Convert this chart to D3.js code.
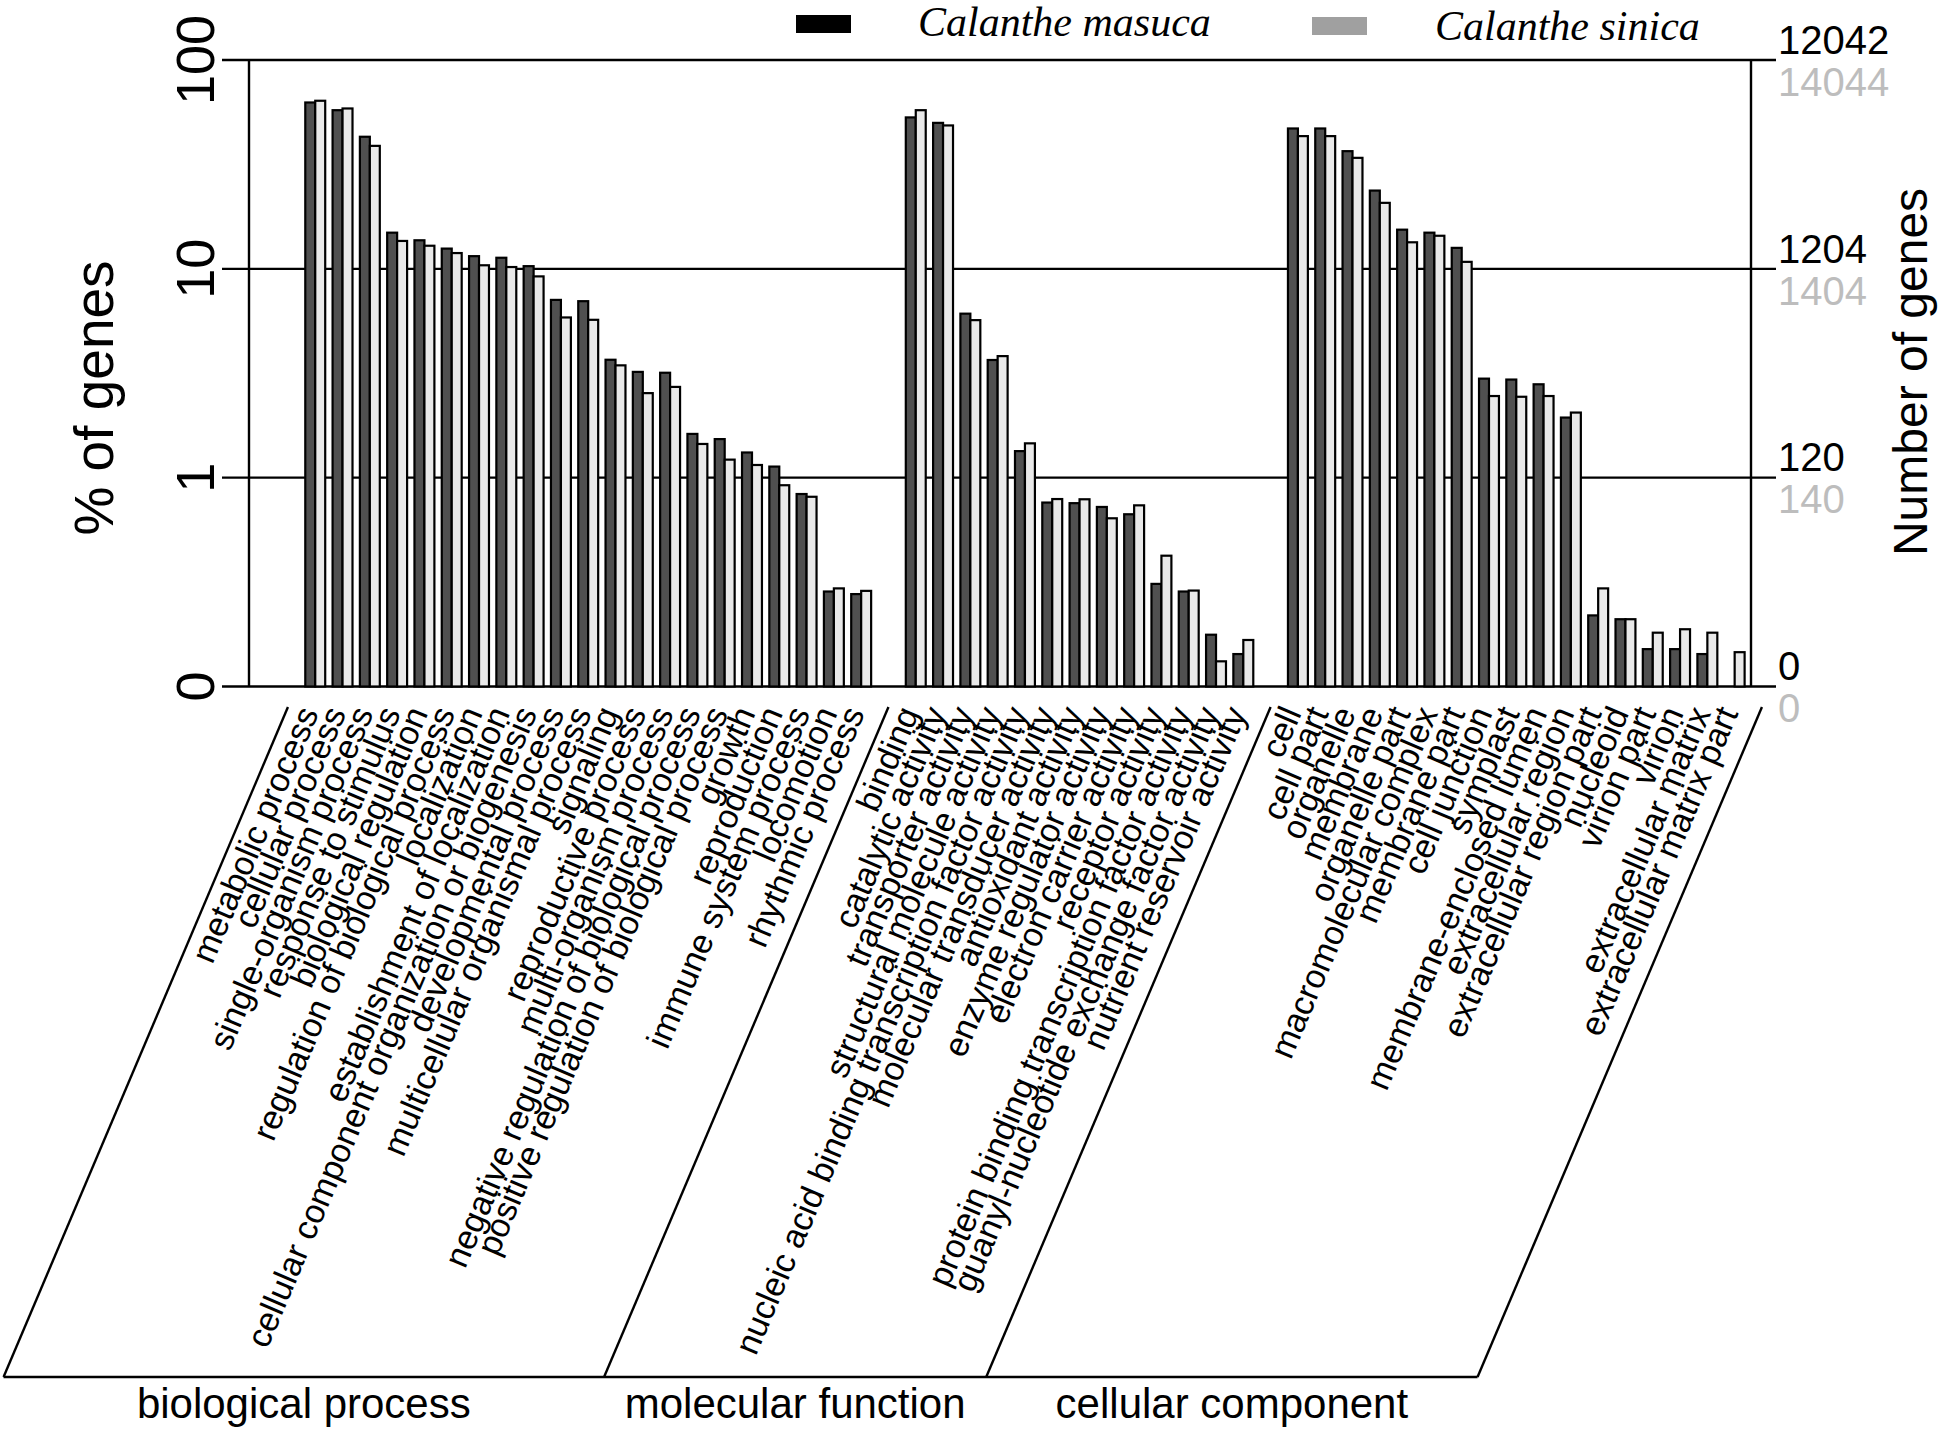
<!DOCTYPE html>
<html><head><meta charset="utf-8">
<script src="https://cdn.jsdelivr.net/npm/d3@7/dist/d3.min.js"></script>
<style>body{margin:0;background:#fff} svg{display:block}</style>
</head><body>
<svg id="chart" width="1946" height="1435"></svg>
<script>
// ---------- data ----------
const groupNames = ["biological process", "molecular function", "cellular component"];
const seriesNames = ["Calanthe masuca", "Calanthe sinica"];

const bpCategories = ["metabolic process","cellular process","single-organism process","response to stimulus",
  "biological regulation","regulation of biological process","localization","establishment of localization",
  "cellular component organization or biogenesis","developmental process","multicellular organismal process",
  "signaling","reproductive process","multi-organism process","negative regulation of biological process",
  "positive regulation of biological process","growth","reproduction","immune system process","locomotion",
  "rhythmic process"];
const bpMasuca = [62.6, 57.5, 42.9, 14.9, 13.7, 12.5, 11.5, 11.3, 10.3, 7.1, 7.0, 3.67, 3.21, 3.18, 1.62, 1.53, 1.32, 1.13, 0.835, 0.285, 0.277];
const bpSinica = [63.8, 58.6, 38.8, 13.6, 12.9, 11.9, 10.4, 10.2, 9.2, 5.85, 5.7, 3.45, 2.54, 2.72, 1.45, 1.22, 1.15, 0.92, 0.81, 0.295, 0.287];

const mfCategories = ["binding","catalytic activity","transporter activity","structural molecule activity",
  "nucleic acid binding transcription factor activity","molecular transducer activity","antioxidant activity",
  "enzyme regulator activity","electron carrier activity","receptor activity",
  "protein binding transcription factor activity","guanyl-nucleotide exchange factor activity",
  "nutrient reservoir activity"];
const mfMasuca = [53.1, 50.0, 6.1, 3.66, 1.34, 0.76, 0.755, 0.724, 0.668, 0.31, 0.285, 0.177, 0.143];
const mfSinica = [57.5, 48.6, 5.68, 3.82, 1.46, 0.79, 0.788, 0.639, 0.737, 0.423, 0.288, 0.132, 0.167];

const ccCategories = ["cell","cell part","organelle","membrane","organelle part","macromolecular complex",
  "membrane part","cell junction","symplast","membrane-enclosed lumen","extracellular region",
  "extracellular region part","nucleoid","virion part","virion","extracellular matrix","extracellular matrix part"];
const ccMasuca = [47.0, 47.0, 36.6, 23.7, 15.4, 14.9, 12.6, 2.98, 2.95, 2.80, 1.94, 0.219, 0.21, 0.151, 0.151, 0.143, 0];
const ccSinica = [43.2, 43.2, 34.0, 20.7, 13.4, 14.4, 10.8, 2.46, 2.44, 2.46, 2.05, 0.295, 0.21, 0.181, 0.188, 0.181, 0.146];

const leftTickValues = [0.1, 1, 10, 100];
const leftTickLabels = ["0", "1", "10", "100"];
const rightTickMasuca = ["0", "120", "1204", "12042"];
const rightTickSinica = ["0", "140", "1404", "14044"];

// ---------- build table ----------
const groupsData = [
  {name: groupNames[0], cats: bpCategories, a: bpMasuca, b: bpSinica},
  {name: groupNames[1], cats: mfCategories, a: mfMasuca, b: mfSinica},
  {name: groupNames[2], cats: ccCategories, a: ccMasuca, b: ccSinica}
];
const domain = [];
const rows = [];
groupsData.forEach((g, gi) => {
  domain.push("_sp" + gi);
  g.cats.forEach((c, i) => { domain.push(c); rows.push({cat: c, group: gi, masuca: g.a[i], sinica: g.b[i]}); });
});
domain.push("_sp3");

// ---------- layout ----------
const svg = d3.select("#chart");
const FONT = "'Liberation Sans', Arial, Helvetica, sans-serif";
const xLeftAxis = 249, xRightAxis = 1751, tickLeft = 222, tickRight = 1776;
const labelTop = 707, bottomY = 1377, angle = 67;

const x = d3.scaleBand().domain(domain).range([274.3, 1775.6]).paddingInner(0).paddingOuter(0);
const bw = x.bandwidth();
const xInner = d3.scaleBand().domain(seriesNames).range([bw * 0.135, bw * 0.865]);
const y = d3.scaleLog().domain([0.1, 100]).range([686.5, 60]).clamp(true);
const yv = v => y(v <= 0 ? 0.1 : v);

// gridlines (also act as ticks on both sides)
svg.append("g").selectAll("line").data(leftTickValues).join("line")
  .attr("x1", tickLeft).attr("x2", tickRight)
  .attr("y1", d => y(d)).attr("y2", d => y(d))
  .attr("stroke", "#000").attr("stroke-width", 2.4);

// vertical axes
[xLeftAxis, xRightAxis].forEach(xx => {
  svg.append("line").attr("x1", xx).attr("x2", xx).attr("y1", y(100)).attr("y2", y(0.1))
    .attr("stroke", "#000").attr("stroke-width", 2.4);
});

// bars
const bars = svg.append("g");
const flat = [];
rows.forEach(r => {
  flat.push({cat: r.cat, s: seriesNames[0], v: r.masuca});
  flat.push({cat: r.cat, s: seriesNames[1], v: r.sinica});
});
bars.selectAll("rect").data(flat).join("rect")
  .attr("x", d => x(d.cat) + xInner(d.s))
  .attr("width", xInner.bandwidth())
  .attr("y", d => yv(d.v))
  .attr("height", d => y(0.1) - yv(d.v))
  .attr("fill", d => d.s === seriesNames[0] ? "#505050" : "#e9e9e9")
  .attr("stroke", "#000").attr("stroke-width", 2.2);

// left tick labels (rotated)
svg.append("g").selectAll("text").data(leftTickValues).join("text")
  .attr("transform", d => `translate(214,${y(d)}) rotate(-90)`)
  .attr("text-anchor", "middle")
  .style("font-family", FONT).style("font-size", "54px")
  .text((d, i) => leftTickLabels[i]);

// left title
svg.append("text").attr("transform", `translate(113,398) rotate(-90)`)
  .attr("text-anchor", "middle").style("font-family", FONT).style("font-size", "55px")
  .text("% of genes");

// right labels
const rAxisM = d3.axisRight(y).tickValues(leftTickValues).tickSize(0)
  .tickFormat((d, i) => rightTickMasuca[i]);
const gM = svg.append("g").attr("transform", `translate(1776,0)`).call(rAxisM);
gM.select(".domain").remove();
gM.selectAll("text").attr("x", 2).attr("dy", "-0.17em")
  .style("font-family", FONT).style("font-size", "40px").attr("fill", "#000");

const rAxisS = d3.axisRight(y).tickValues(leftTickValues).tickSize(0)
  .tickFormat((d, i) => rightTickSinica[i]);
const gS = svg.append("g").attr("transform", `translate(1776,0)`).call(rAxisS);
gS.select(".domain").remove();
gS.selectAll("text").attr("x", 2).attr("dy", "0.88em")
  .style("font-family", FONT).style("font-size", "40px").attr("fill", "#bdbdbd");

// right title
svg.append("text").attr("transform", `translate(1927,372) rotate(-90)`)
  .attr("text-anchor", "middle").style("font-family", FONT).style("font-size", "48px")
  .text("Number of genes");

// legend
const legend = [
  {name: seriesNames[0], rx: 796, ry: 15, color: "#000", tx: 918, ty: 36},
  {name: seriesNames[1], rx: 1312, ry: 17, color: "#a0a0a0", tx: 1435, ty: 40}
];
legend.forEach(l => {
  svg.append("rect").attr("x", l.rx).attr("y", l.ry).attr("width", 55).attr("height", 18).attr("fill", l.color);
  svg.append("text").attr("x", l.tx).attr("y", l.ty)
    .style("font-family", "'Liberation Serif', 'Times New Roman', serif").style("font-style", "italic")
    .style("font-size", "42px").text(l.name);
});

// category labels
svg.append("g").selectAll("text").data(rows).join("text")
  .attr("transform", d => `translate(${x(d.cat) + bw / 2 + 4},${labelTop + 6}) rotate(${-angle})`)
  .attr("text-anchor", "end")
  .style("font-family", FONT).style("font-size", "34px")
  .text(d => d.cat);

// group parallelograms
const off = (bottomY - labelTop) / Math.tan(angle * Math.PI / 180);
const edgeX = ["_sp0", "_sp1", "_sp2", "_sp3"].map(s => x(s) + bw / 2);
edgeX.forEach(ex => {
  svg.append("line").attr("x1", ex).attr("y1", labelTop).attr("x2", ex - off).attr("y2", bottomY)
    .attr("stroke", "#000").attr("stroke-width", 2.4);
});
svg.append("line").attr("x1", edgeX[0] - off).attr("x2", edgeX[3] - off)
  .attr("y1", bottomY).attr("y2", bottomY).attr("stroke", "#000").attr("stroke-width", 2.6);

// group labels
groupNames.forEach((g, i) => {
  const cx = ((edgeX[i] - off) + (edgeX[i + 1] - off)) / 2;
  svg.append("text").attr("x", cx).attr("y", 1418).attr("text-anchor", "middle")
    .style("font-family", FONT).style("font-size", "42px").text(g);
});
</script>
</body></html>
